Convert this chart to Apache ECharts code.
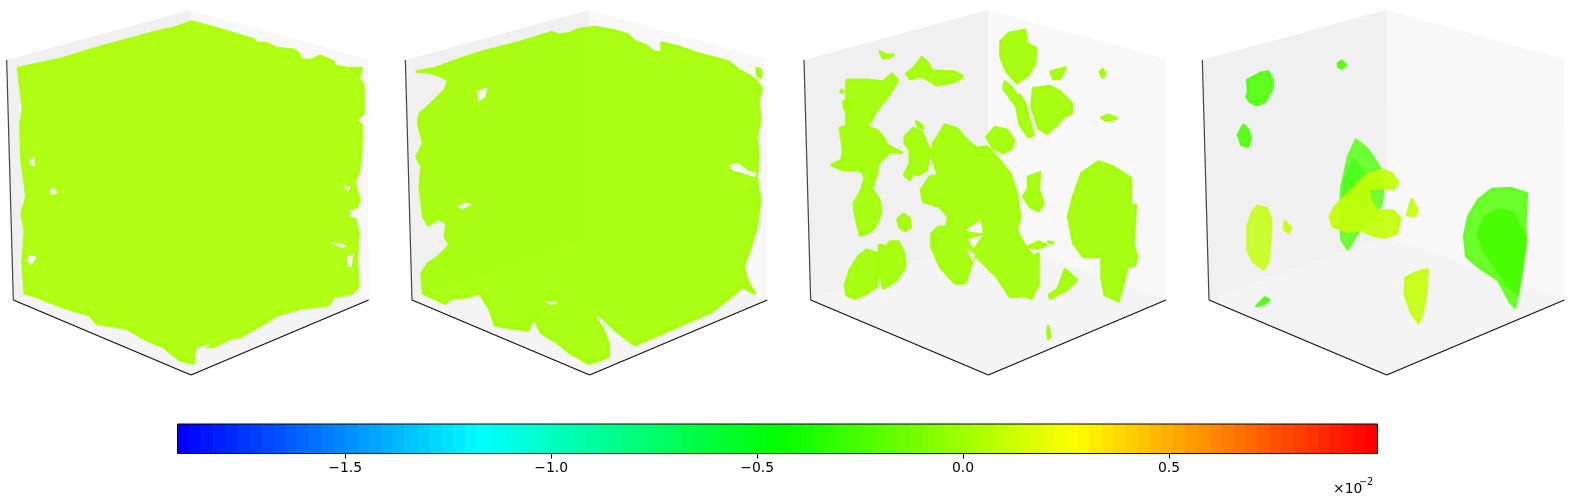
<!DOCTYPE html>
<html>
<head>
<meta charset="utf-8">
<style>
html, body { margin: 0; padding: 0; background: #fff; }
#main { width: 1580px; height: 502px; }
</style>
<script src="https://cdn.jsdelivr.net/npm/echarts@6/dist/echarts.min.js"></script>
</head>
<body>
<div id="main"></div>
<script>
var panel1Blobs = [
	[[575,65],[600,72],[650,85],[700,100],[760,118],[770,130],[800,130],[830,145],[880,150],[895,160],[905,180],[935,180],[960,168],[1000,185],[1005,198],[1040,205],[1085,205],[1075,235],[1090,255],[1090,340],[1068,360],[1085,375],[1082,470],[1075,520],[1062,545],[1078,600],[1062,640],[1075,700],[1070,780],[1075,860],[1055,880],[1000,890],[985,915],[900,925],[830,945],[800,965],[720,1010],[690,1015],[640,1040],[590,1040],[580,1090],[540,1080],[490,1040],[440,1020],[380,985],[290,970],[270,945],[200,925],[110,890],[75,880],[68,790],[75,690],[65,640],[80,590],[65,480],[62,370],[70,330],[60,250],[55,205],[100,195],[180,178],[270,150],[380,120],[470,95],[520,85]]
];
var panel1Gaps = [
	[[88,478],[102,470],[105,500],[92,495]],
	[[148,570],[160,562],[172,578],[155,585]],
	[[85,765],[110,770],[95,795],[82,785]],
	[[1050,630],[1072,625],[1068,655],[1052,650]],
	[[1030,555],[1050,560],[1045,575]],
	[[1040,770],[1060,760],[1055,800],[1045,800]],
	[[985,725],[1040,735],[1030,745]],
	[[590,1045],[630,1030],[600,1065],[585,1070]]
];
var panel2Blobs = [
	[[470,97],[490,105],[525,100],[550,88],[600,82],[660,92],[700,105],[720,125],[750,135],[775,155],[800,158],[800,128],[850,140],[900,158],[1000,185],[1030,210],[1060,225],[1085,245],[1100,265],[1090,300],[1095,360],[1085,410],[1090,470],[1085,535],[1095,600],[1085,680],[1060,760],[1045,800],[1060,850],[1080,880],[1040,860],[1020,880],[950,935],[880,965],[800,1000],[720,1035],[660,990],[620,950],[590,935],[625,990],[640,1030],[640,1070],[600,1085],[580,1090],[520,1055],[490,1030],[440,1000],[420,960],[440,930],[415,955],[400,990],[350,985],[300,975],[285,930],[255,880],[220,890],[170,895],[150,910],[85,880],[80,820],[100,790],[130,770],[165,735],[150,710],[155,670],[130,655],[100,675],[85,650],[75,560],[80,500],[65,470],[85,430],[70,370],[75,340],[100,320],[150,270],[160,240],[130,225],[100,215],[65,215],[120,205],[200,175],[265,155],[380,125]],
	[[1085,205],[1097,208],[1097,232],[1088,228]]
];
var panel2Gaps = [
	[[1000,495],[1030,490],[1060,512],[1085,520],[1080,532],[1040,518],[1015,512]],
	[[185,622],[210,608],[232,612],[205,628]],
	[[247,272],[278,262],[270,292],[250,305]],
	[[450,905],[490,905],[470,915]],
	[[640,1000],[655,1005],[650,1020]]
];
var panel3Blobs = [
	[[465,375],[500,385],[530,420],[560,445],[590,440],[620,470],[660,520],[680,580],[690,650],[680,690],[700,730],[730,770],[745,760],[745,850],[725,895],[700,885],[680,890],[660,890],[620,830],[555,765],[545,790],[525,850],[495,850],[450,800],[425,740],[425,700],[445,682],[470,680],[475,650],[450,620],[400,605],[393,570],[420,530],[445,525],[425,470],[430,430]],
	[[170,240],[230,240],[280,245],[305,222],[323,240],[300,280],[260,330],[232,380],[262,392],[285,420],[290,435],[335,458],[300,455],[285,470],[265,490],[260,520],[245,565],[268,600],[272,640],[255,680],[240,695],[210,705],[195,640],[192,610],[215,570],[225,530],[210,510],[160,510],[125,495],[155,480],[160,450],[150,385],[170,378],[170,300]],
	[[350,222],[375,200],[395,172],[415,190],[425,212],[490,215],[518,228],[495,245],[440,255],[415,240],[395,228],[360,237]],
	[[270,155],[290,165],[310,165],[295,172],[280,175]],
	[[155,270],[160,275],[152,277]],
	[[160,305],[175,300],[180,320],[165,330]],
	[[345,410],[370,385],[395,395],[410,430],[420,450],[410,510],[385,525],[365,520],[360,540],[343,525],[360,490],[360,450],[345,430]],
	[[378,365],[395,375],[398,385],[385,380]],
	[[340,642],[358,655],[362,680],[345,692],[328,680],[323,658]],
	[[230,750],[260,760],[268,800],[260,860],[230,880],[195,895],[170,885],[165,855],[180,810],[205,770]],
	[[268,735],[290,740],[300,725],[325,725],[342,760],[345,800],[320,840],[280,865],[265,800]],
	[[655,100],[705,90],[710,130],[738,145],[735,190],[715,225],[680,248],[650,215],[632,170],[632,125]],
	[[782,215],[826,203],[810,235],[790,237]],
	[[930,215],[938,208],[945,222],[938,233]],
	[[645,245],[665,262],[690,300],[690,285],[705,310],[730,405],[715,410],[690,375],[680,320],[640,265]],
	[[730,265],[760,262],[780,258],[810,275],[845,310],[845,340],[820,350],[800,375],[770,400],[745,385],[725,320]],
	[[935,353],[955,345],[980,355],[950,362]],
	[[590,410],[615,382],[650,390],[672,420],[665,445],[640,458],[610,445]],
	[[715,530],[750,518],[745,565],[760,610],[745,633],[720,620],[700,590],[715,565]],
	[[925,485],[970,500],[1022,535],[1022,620],[1037,615],[1030,735],[1040,770],[1035,795],[1012,800],[1000,850],[985,903],[945,885],[935,835],[935,770],[880,770],[850,730],[835,650],[850,590],[875,520]],
	[[825,808],[860,840],[830,870],[780,895],[778,885],[805,865]],
	[[775,978],[780,1010],[775,1015],[772,995]],
	[[715,740],[745,725],[768,735],[745,745]],
	[[775,725],[790,728],[780,730]]
];
var panel3Gaps = [
	[[528,690],[572,660],[578,700],[540,695]],
	[[535,718],[578,705],[550,745]],
	[[530,745],[556,765],[548,785]]
];
var panel4Blobs = [
	[[187,240],[225,220],[250,215],[262,240],[262,265],[240,305],[215,315],[195,305],[185,290],[190,275]],
	[[460,190],[470,183],[482,195],[470,205],[460,200]],
	[[160,405],[175,375],[190,390],[196,415],[190,438],[170,435]],
	[[513,420],[550,450],[585,505],[595,560],[590,610],[565,650],[530,680],[505,720],[488,747],[470,720],[465,650],[470,560],[490,470]],
	[[505,480],[540,520],[555,570],[545,620],[510,660],[480,690],[472,620],[480,540]],
	[[435,650],[450,620],[490,580],[545,525],[590,510],[620,520],[638,545],[630,565],[590,565],[550,565],[555,600],[575,632],[625,632],[645,655],[635,700],[600,712],[560,705],[530,690],[490,695],[445,680]],
	[[680,598],[697,630],[690,647],[667,645]],
	[[300,665],[318,685],[310,697],[297,685]],
	[[215,618],[245,625],[258,660],[255,730],[248,790],[235,808],[205,785],[188,750],[188,680],[200,640]],
	[[920,568],[980,565],[1025,580],[1020,680],[1022,730],[1010,800],[1000,870],[990,922],[975,905],[940,840],[880,800],[845,770],[838,710],[850,650],[880,600]],
	[[945,628],[985,640],[1005,680],[1022,710],[1012,800],[998,880],[970,860],[930,800],[895,750],[878,700],[900,650]],
	[[690,818],[728,808],[722,890],[710,945],[700,968],[680,940],[660,885],[662,835]],
	[[215,918],[240,893],[252,900],[240,910]]
];
var panel4Colors = ['#52ff0f','#52ff0f','#52ff0f','#66ff26','#4aff1a','#c2ff0a','#c4ff0a','#c4ff0a','#c8ff20','#60ff1a','#48ff00','#c4ff10','#52ff0f'];

// cube corners for the first panel, the others sit a few units to the right
var cubeShift = [0, 11, 22, 32];
var leftPane = [[20,180],[572,30],[574,710],[40,900]];
var rightPane = [[572,30],[1105,178],[1106,900],[574,710]];
var floorPane = [[40,900],[574,710],[1106,900],[573,1125]];
var cubeEdges = [[[20,180],[40,900]],[[40,900],[573,1125]],[[573,1125],[1106,900]]];

// one entry per colour step of the colour bar, lower edge of the step
var colorbarLevels = [-1.907,-1.878,-1.849,-1.820,-1.790,-1.761,-1.732,-1.703,-1.674,-1.645,-1.616,-1.587,-1.557,-1.528,-1.499,-1.470,-1.441,-1.412,-1.383,-1.354,-1.324,-1.295,-1.266,-1.237,-1.208,-1.179,-1.150,-1.120,-1.091,-1.062,-1.033,-1.004,-0.975,-0.946,-0.917,-0.887,-0.858,-0.829,-0.800,-0.771,-0.742,-0.713,-0.684,-0.654,-0.625,-0.596,-0.567,-0.538,-0.509,-0.480,-0.451,-0.421,-0.392,-0.363,-0.334,-0.305,-0.276,-0.247,-0.217,-0.188,-0.159,-0.130,-0.101,-0.072,-0.043,-0.014,0.016,0.045,0.074,0.103,0.132,0.161,0.190,0.219,0.249,0.278,0.307,0.336,0.365,0.394,0.423,0.453,0.482,0.511,0.540,0.569,0.598,0.627,0.656,0.686,0.715,0.744,0.773,0.802,0.831,0.860,0.890,0.919,0.948,0.977];
var colorbarMin = -1.907;
var colorbarMax = 1.006;
var colorbarStops = ['#0000ff','#00ffff','#00ff00','#ffff00','#ff0000'];
var colorbarTicks = [-1.5,-1,-0.5,0,0.5];

var chart = echarts.init(document.getElementById('main'));

function shifted(points, dx) {
	return points.map(function(p) { return [p[0] + dx, p[1]]; });
}

// every shape of a panel goes through the panel's own axes
function shapeSeries(index, shapes) {
	return {
		type: 'custom',
		xAxisIndex: index,
		yAxisIndex: index,
		silent: true,
		animation: false,
		clip: false,
		data: shapes.map(function(s, i) { return [i]; }),
		renderItem: function(params, api) {
			var s = shapes[params.dataIndex];
			var pts = s.points.map(function(p) { return api.coord(p); });
			if (s.line) {
				return {
					type: 'polyline',
					shape: { points: pts },
					style: { fill: null, stroke: s.line, lineWidth: s.width, opacity: s.opacity }
				};
			}
			return {
				type: 'polygon',
				shape: { points: pts },
				style: {
					fill: s.color,
					opacity: s.opacity,
					stroke: s.stroke || null,
					lineWidth: s.stroke ? 3 : 0,
					lineJoin: 'round'
				}
			};
		}
	};
}

function panelShapes(index, blobs, gaps, colors) {
	var dx = cubeShift[index];
	var shapes = [
		{ points: shifted(leftPane, dx), color: '#f0f0f0' },
		{ points: shifted(rightPane, dx), color: '#f8f8f8' },
		{ points: shifted(floorPane, dx), color: '#f4f4f4' }
	];
	blobs.forEach(function(b, i) {
		var c = colors[i] || colors[0];
		shapes.push({ points: b, color: c, stroke: c, opacity: 0.92 });
	});
	gaps.forEach(function(g) {
		shapes.push({ points: g, color: '#f6f6f6' });
	});
	cubeEdges.forEach(function(e, i) {
		shapes.push({ points: shifted(e, dx), line: i == 0 ? '#444' : '#111', width: 1.2 });
	});
	return shapes;
}

var panels = [
	panelShapes(0, panel1Blobs, panel1Gaps, ['#aaff00']),
	panelShapes(1, panel2Blobs, panel2Gaps, ['#a4ff00']),
	panelShapes(2, panel3Blobs, panel3Gaps, ['#a2ff00']),
	panelShapes(3, panel4Blobs, [], panel4Colors)
];

var grids = [], xAxes = [], yAxes = [], series = [];
panels.forEach(function(shapes, i) {
	grids.push({ left: 395 * i, top: 0, width: 395, height: 385 });
	xAxes.push({ type: 'value', gridIndex: i, min: 0, max: 1185, show: false });
	yAxes.push({ type: 'value', gridIndex: i, min: 0, max: 1155, inverse: true, show: false });
	series.push(shapeSeries(i, shapes));
});

// colour bar
grids.push({ left: 177.5, top: 424, width: 1200, height: 29.5 });
xAxes.push({
	type: 'value',
	gridIndex: 4,
	min: colorbarMin,
	max: colorbarMax,
	axisLine: { show: false },
	splitLine: { show: false },
	axisTick: { show: true, customValues: colorbarTicks, length: 5, lineStyle: { color: '#000', width: 1 } },
	axisLabel: {
		show: true,
		customValues: colorbarTicks,
		margin: 8,
		color: '#000',
		fontFamily: 'DejaVu Sans',
		fontSize: 13.9,
		formatter: function(value) {
			return (value < 0 ? '\u2212' : '') + Math.abs(value).toFixed(1);
		}
	}
});
yAxes.push({ type: 'value', gridIndex: 4, min: 0, max: 1, show: false });
series.push({
	type: 'custom',
	xAxisIndex: 4,
	yAxisIndex: 4,
	silent: true,
	animation: false,
	data: colorbarLevels.map(function(v) { return [v]; }),
	renderItem: function(params, api) {
		var i = params.dataIndex;
		var next = i + 1 < colorbarLevels.length ? colorbarLevels[i + 1] : colorbarMax;
		var a = api.coord([colorbarLevels[i], 1]);
		var b = api.coord([next, 0]);
		return {
			type: 'rect',
			shape: { x: a[0], y: a[1], width: b[0] - a[0] + 0.5, height: b[1] - a[1] },
			style: { fill: echarts.color.lerp(i / (colorbarLevels.length - 1), colorbarStops) }
		};
	}
});
series.push({
	type: 'custom',
	xAxisIndex: 4,
	yAxisIndex: 4,
	silent: true,
	animation: false,
	z: 5,
	data: [[colorbarMin]],
	renderItem: function(params, api) {
		var a = api.coord([colorbarMin, 1]);
		var b = api.coord([colorbarMax, 0]);
		return {
			type: 'rect',
			shape: { x: a[0], y: a[1], width: b[0] - a[0], height: b[1] - a[1] },
			style: { fill: null, stroke: '#000', lineWidth: 1 }
		};
	}
});

chart.setOption({
	animation: false,
	backgroundColor: '#fff',
	grid: grids,
	xAxis: xAxes,
	yAxis: yAxes,
	series: series,
	graphic: [
		{ type: 'text', left: 1333, top: 482, style: { text: '\u00d710', fill: '#000', font: '13.9px "DejaVu Sans"' } },
		{ type: 'text', left: 1359, top: 477, style: { text: '\u22122', fill: '#000', font: '9.7px "DejaVu Sans"' } }
	]
});
</script>
</body>
</html>
